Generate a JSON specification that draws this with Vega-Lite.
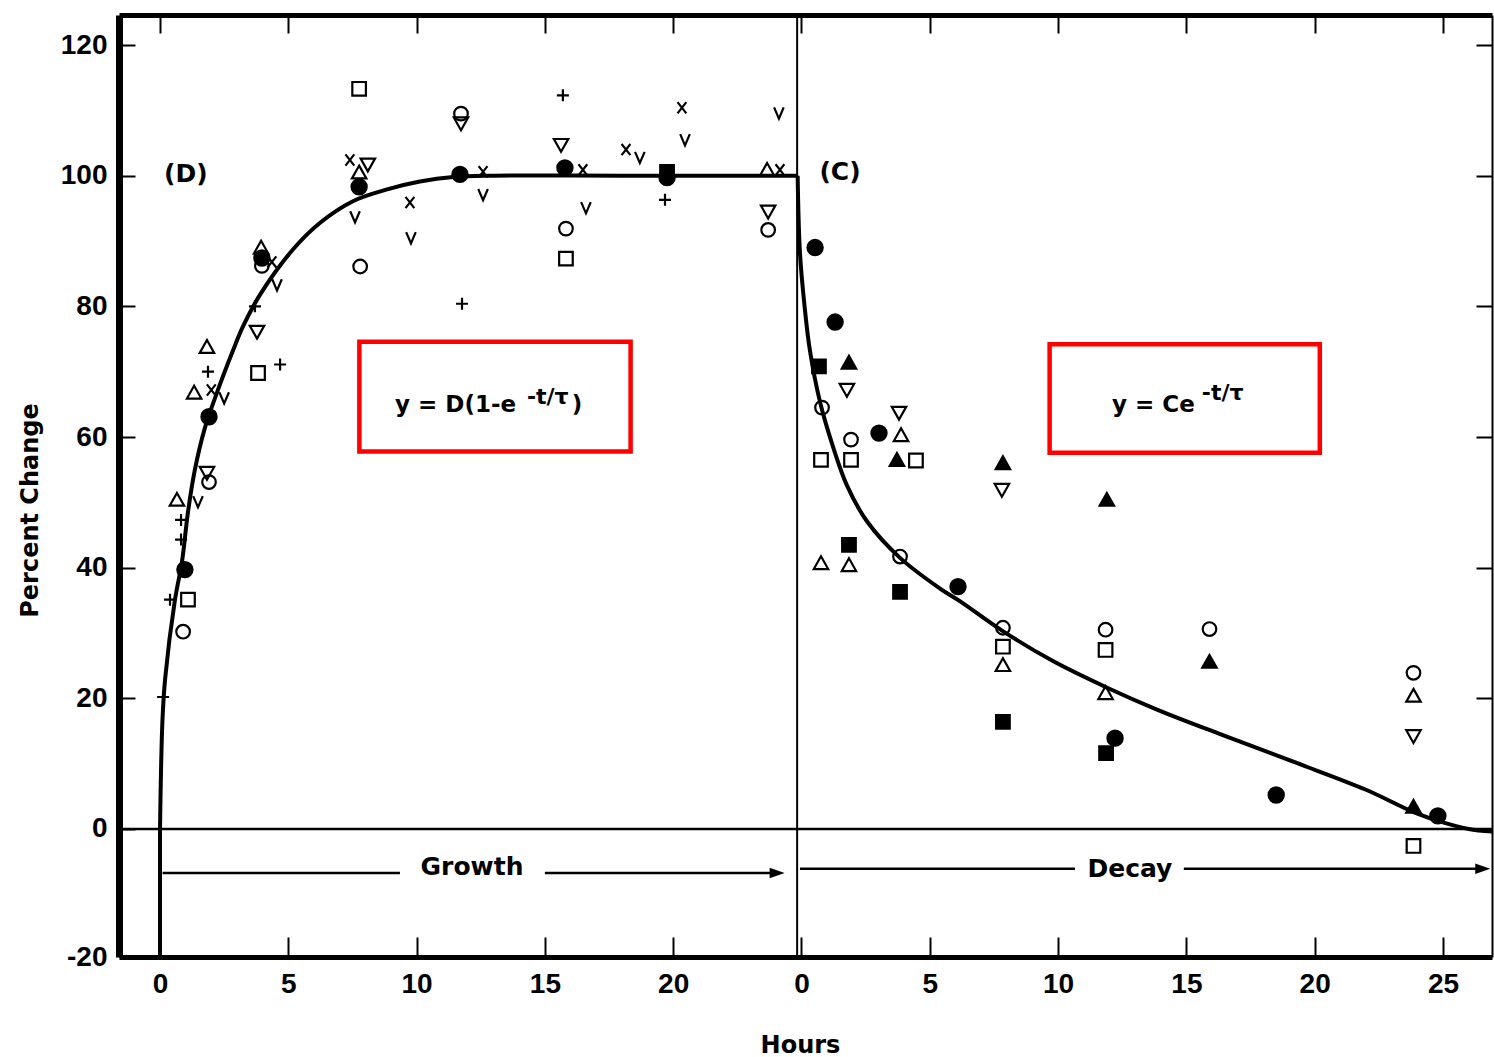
{
  "$schema": "https://vega.github.io/schema/vega-lite/v6.json",
  "width": 1373,
  "height": 942,
  "padding": {"left": 119, "top": 15, "right": 2, "bottom": 100},
  "autosize": {"type": "none"},
  "background": "white",
  "config": {"view": {"stroke": null}, "font": "DejaVu Sans"},
  "resolve": {"axis": {"x": "independent", "y": "independent"}},
  "datasets": {
    "points": [
      {"t": 0.12, "y": 20.2, "s": "plus"}, {"t": 0.39, "y": 35.1, "s": "plus"}, {"t": 0.82, "y": 47.3, "s": "plus"}, {"t": 0.82, "y": 44.3, "s": "plus"}, {"t": 1.87, "y": 70, "s": "plus"}, {"t": 4.68, "y": 71.1, "s": "plus"}, {"t": 3.7, "y": 80, "s": "plus"}, {"t": 11.77, "y": 80.4, "s": "plus"}, {"t": 15.7, "y": 112.3, "s": "plus"}, {"t": 19.68, "y": 96.3, "s": "plus"},
      {"t": 0.9, "y": 30.2, "s": "oc"}, {"t": 1.91, "y": 53.1, "s": "oc"}, {"t": 3.97, "y": 86.2, "s": "oc"}, {"t": 7.8, "y": 86.1, "s": "oc"}, {"t": 11.73, "y": 109.5, "s": "oc"}, {"t": 15.82, "y": 91.9, "s": "oc"}, {"t": 23.7, "y": 91.7, "s": "oc"},
      {"t": 1.09, "y": 35.1, "s": "os"}, {"t": 3.82, "y": 69.8, "s": "os"}, {"t": 7.76, "y": 113.3, "s": "os"}, {"t": 15.82, "y": 87.3, "s": "os"},
      {"t": 0.97, "y": 39.7, "s": "fc"}, {"t": 1.91, "y": 63.1, "s": "fc"}, {"t": 3.97, "y": 87.4, "s": "fc"}, {"t": 7.76, "y": 98.3, "s": "fc"}, {"t": 11.69, "y": 100.2, "s": "fc"}, {"t": 15.78, "y": 101.2, "s": "fc"}, {"t": 19.76, "y": 99.7, "s": "fc"},
      {"t": 19.76, "y": 100.6, "s": "fs"},
      {"t": 0.66, "y": 50.4, "s": "ot"}, {"t": 1.33, "y": 66.8, "s": "ot"}, {"t": 1.83, "y": 73.8, "s": "ot"}, {"t": 3.94, "y": 89, "s": "ot"}, {"t": 7.76, "y": 100.5, "s": "ot"}, {"t": 23.66, "y": 100.9, "s": "ot"},
      {"t": 1.83, "y": 54.5, "s": "od"}, {"t": 3.78, "y": 76.1, "s": "od"}, {"t": 8.1, "y": 101.7, "s": "od"}, {"t": 11.73, "y": 108, "s": "od"}, {"t": 15.63, "y": 104.7, "s": "od"}, {"t": 23.7, "y": 94.5, "s": "od"},
      {"t": 2.0, "y": 67.2, "s": "x"}, {"t": 4.36, "y": 86.8, "s": "x"}, {"t": 7.4, "y": 102.4, "s": "x"}, {"t": 9.74, "y": 95.9, "s": "x"}, {"t": 12.59, "y": 100.6, "s": "x"}, {"t": 16.48, "y": 100.9, "s": "x"}, {"t": 18.16, "y": 104, "s": "x"}, {"t": 20.34, "y": 110.4, "s": "x"}, {"t": 24.16, "y": 100.9, "s": "x"},
      {"t": 1.48, "y": 50.1, "s": "v"}, {"t": 2.5, "y": 66, "s": "v"}, {"t": 4.56, "y": 83.3, "s": "v"}, {"t": 7.6, "y": 93.7, "s": "v"}, {"t": 9.78, "y": 90.5, "s": "v"}, {"t": 12.59, "y": 97.1, "s": "v"}, {"t": 16.6, "y": 95.1, "s": "v"}, {"t": 18.7, "y": 102.8, "s": "v"}, {"t": 20.46, "y": 105.5, "s": "v"}, {"t": 24.12, "y": 109.6, "s": "v"},
      {"t": 25.53, "y": 89, "s": "fc"}, {"t": 26.31, "y": 77.6, "s": "fc"}, {"t": 28.02, "y": 60.6, "s": "fc"}, {"t": 31.1, "y": 37.1, "s": "fc"}, {"t": 37.22, "y": 13.9, "s": "fc"}, {"t": 43.5, "y": 5.2, "s": "fc"}, {"t": 49.8, "y": 2.0, "s": "fc"},
      {"t": 25.68, "y": 70.8, "s": "fs"}, {"t": 26.85, "y": 43.5, "s": "fs"}, {"t": 28.84, "y": 36.3, "s": "fs"}, {"t": 32.85, "y": 16.4, "s": "fs"}, {"t": 36.87, "y": 11.6, "s": "fs"},
      {"t": 26.85, "y": 71.4, "s": "ft"}, {"t": 28.72, "y": 56.5, "s": "ft"}, {"t": 32.85, "y": 56, "s": "ft"}, {"t": 36.9, "y": 50.4, "s": "ft"}, {"t": 40.9, "y": 25.6, "s": "ft"}, {"t": 48.85, "y": 3.4, "s": "ft"},
      {"t": 26.77, "y": 67.2, "s": "od"}, {"t": 28.8, "y": 63.7, "s": "od"}, {"t": 32.81, "y": 51.9, "s": "od"}, {"t": 48.85, "y": 14.2, "s": "od"},
      {"t": 25.8, "y": 64.5, "s": "oc"}, {"t": 26.93, "y": 59.6, "s": "oc"}, {"t": 28.84, "y": 41.7, "s": "oc"}, {"t": 32.85, "y": 30.8, "s": "oc"}, {"t": 36.85, "y": 30.5, "s": "oc"}, {"t": 40.9, "y": 30.6, "s": "oc"}, {"t": 48.85, "y": 23.9, "s": "oc"},
      {"t": 28.88, "y": 60.3, "s": "ot"}, {"t": 25.76, "y": 40.7, "s": "ot"}, {"t": 26.85, "y": 40.4, "s": "ot"}, {"t": 32.85, "y": 25.1, "s": "ot"}, {"t": 36.85, "y": 20.8, "s": "ot"}, {"t": 48.85, "y": 20.4, "s": "ot"},
      {"t": 25.76, "y": 56.5, "s": "os"}, {"t": 26.93, "y": 56.5, "s": "os"}, {"t": 29.46, "y": 56.4, "s": "os"}, {"t": 32.85, "y": 27.9, "s": "os"}, {"t": 36.85, "y": 27.4, "s": "os"}, {"t": 48.85, "y": -2.6, "s": "os"}
    ],
    "curves": [
      {"c": "g0", "t": 0, "y": -19.6}, {"c": "g0", "t": 0, "y": 0},
      {"c": "growth", "t": 0, "y": 0}, {"c": "growth", "t": 0.04, "y": 9}, {"c": "growth", "t": 0.1, "y": 17}, {"c": "growth", "t": 0.2, "y": 23},
      {"c": "growth", "t": 0.58, "y": 35}, {"c": "growth", "t": 0.86, "y": 41}, {"c": "growth", "t": 1.09, "y": 48.5}, {"c": "growth", "t": 1.36, "y": 55}, {"c": "growth", "t": 1.75, "y": 61.4},
      {"c": "growth", "t": 2.22, "y": 66.8}, {"c": "growth", "t": 2.84, "y": 73.2}, {"c": "growth", "t": 3.23, "y": 76.9}, {"c": "growth", "t": 3.9, "y": 81.8}, {"c": "growth", "t": 5.18, "y": 88.7},
      {"c": "growth", "t": 6.24, "y": 92.8}, {"c": "growth", "t": 7.52, "y": 96.1}, {"c": "growth", "t": 8.85, "y": 97.9}, {"c": "growth", "t": 10.13, "y": 99.1}, {"c": "growth", "t": 11.42, "y": 99.8},
      {"c": "growth", "t": 13, "y": 100}, {"c": "growth", "t": 18, "y": 100}, {"c": "growth", "t": 24.85, "y": 100},
      {"c": "decay", "t": 24.85, "y": 100}, {"c": "decay", "t": 24.94, "y": 88.2}, {"c": "decay", "t": 25.12, "y": 80}, {"c": "decay", "t": 25.33, "y": 73.2}, {"c": "decay", "t": 25.72, "y": 65.4}, {"c": "decay", "t": 26.23, "y": 58.5},
      {"c": "decay", "t": 26.77, "y": 52.6}, {"c": "decay", "t": 27.55, "y": 47.1}, {"c": "decay", "t": 28.84, "y": 41.5}, {"c": "decay", "t": 30.4, "y": 36.8}, {"c": "decay", "t": 31.2, "y": 34.8},
      {"c": "decay", "t": 32.8, "y": 30.4}, {"c": "decay", "t": 34.8, "y": 25.7}, {"c": "decay", "t": 36.87, "y": 21.7}, {"c": "decay", "t": 38.9, "y": 18.2}, {"c": "decay", "t": 41.6, "y": 14.1}, {"c": "decay", "t": 44.3, "y": 10.1},
      {"c": "decay", "t": 47.0, "y": 6.0}, {"c": "decay", "t": 48.9, "y": 2.5}, {"c": "decay", "t": 50.0, "y": 1.0}, {"c": "decay", "t": 51.0, "y": 0}, {"c": "decay", "t": 51.91, "y": -0.4}
    ],
    "arrows": [
      {"seg": "g1", "t": 0.1, "y": -6.74}, {"seg": "g1", "t": 9.35, "y": -6.74},
      {"seg": "g2", "t": 15.0, "y": -6.74}, {"seg": "g2", "t": 24.0, "y": -6.74},
      {"seg": "d1", "t": 24.94, "y": -6.1}, {"seg": "d1", "t": 35.66, "y": -6.1},
      {"seg": "d2", "t": 39.9, "y": -6.1}, {"seg": "d2", "t": 51.4, "y": -6.1}
    ],
    "heads": [{"t": 24.05, "y": -6.74}, {"t": 51.55, "y": -6.1}],
    "boxes": [
      {"x1": 7.77, "x2": 18.34, "y1": 74.6, "y2": 57.8},
      {"x1": 34.67, "x2": 45.2, "y1": 74.2, "y2": 57.6}
    ],
    "labels": [
      {"t": 1.01, "y": 100.2, "txt": "(D)"}, {"t": 26.5, "y": 100.6, "txt": "(C)"},
      {"t": 12.16, "y": -5.8, "txt": "Growth"}, {"t": 37.8, "y": -6.1, "txt": "Decay"}
    ],
    "eq": [
      {"t": 9.16, "y": 63.9, "txt": "y = D(1-e"}, {"t": 16.05, "y": 63.9, "txt": ")"}, {"t": 37.1, "y": 63.9, "txt": "y = Ce"}
    ],
    "sup": [
      {"t": 14.3, "y": 65.1, "txt": "-t/τ"}, {"t": 40.6, "y": 65.7, "txt": "-t/τ"}
    ],
    "zero": [{"y": 0}],
    "divider": [{"t": 24.83}]
  },
  "layer": [
    {
      "data": {"name": "zero"},
      "mark": {"type": "rule", "color": "black", "strokeWidth": 2.5},
      "encoding": {"y": {"field": "y", "type": "quantitative", "axis": null}}
    },
    {
      "data": {"name": "divider"},
      "mark": {"type": "rule", "color": "black", "strokeWidth": 2},
      "encoding": {"x": {"field": "t", "type": "quantitative", "axis": null}}
    },
    {
      "data": {"name": "boxes"},
      "mark": {"type": "rect", "filled": false, "fill": null, "stroke": "#ff0000", "strokeWidth": 4.5},
      "encoding": {
        "x": {"field": "x1", "type": "quantitative", "axis": null},
        "x2": {"field": "x2"},
        "y": {"field": "y1", "type": "quantitative", "axis": null},
        "y2": {"field": "y2"}
      }
    },
    {
      "data": {"name": "curves"},
      "mark": {"type": "line", "color": "black", "strokeWidth": 4, "strokeJoin": "round", "interpolate": "catmull-rom"},
      "encoding": {
        "x": {"field": "t", "type": "quantitative",
          "axis": {"orient": "top", "values": [0, 5, 10, 15, 20, 25, 30, 35, 40, 45, 50], "labels": false, "title": null, "grid": false, "domainColor": "black", "domainWidth": 5, "tickColor": "black", "tickWidth": 2, "tickSize": -18}},
        "y": {"field": "y", "type": "quantitative",
          "axis": {"orient": "right", "values": [0, 20, 40, 60, 80, 100, 120], "labels": false, "title": null, "grid": false, "domainColor": "black", "domainWidth": 2, "tickColor": "black", "tickWidth": 2, "tickSize": -16}},
        "detail": {"field": "c"},
        "order": {"field": "t", "type": "quantitative"}
      }
    },
    {
      "data": {"name": "arrows"},
      "mark": {"type": "line", "color": "black", "strokeWidth": 2.5},
      "encoding": {
        "x": {"field": "t", "type": "quantitative", "axis": null},
        "y": {"field": "y", "type": "quantitative", "axis": null},
        "detail": {"field": "seg"}
      }
    },
    {
      "data": {"name": "heads"},
      "mark": {"type": "point", "shape": "M1,0L-1,-0.7L-1,0.7Z", "filled": true, "color": "black", "size": 225, "opacity": 1},
      "encoding": {
        "x": {"field": "t", "type": "quantitative", "axis": null},
        "y": {"field": "y", "type": "quantitative", "axis": null}
      }
    },
    {
      "data": {"name": "labels"},
      "mark": {"type": "text", "font": "DejaVu Sans", "fontWeight": "bold", "fontSize": 25, "color": "black", "align": "center", "baseline": "middle"},
      "encoding": {
        "x": {"field": "t", "type": "quantitative", "axis": null},
        "y": {"field": "y", "type": "quantitative", "axis": null},
        "text": {"field": "txt"}
      }
    },
    {
      "data": {"name": "eq"},
      "mark": {"type": "text", "font": "DejaVu Sans", "fontWeight": "bold", "fontSize": 23, "color": "black", "align": "left", "baseline": "alphabetic"},
      "encoding": {
        "x": {"field": "t", "type": "quantitative", "axis": null},
        "y": {"field": "y", "type": "quantitative", "axis": null},
        "text": {"field": "txt"}
      }
    },
    {
      "data": {"name": "sup"},
      "mark": {"type": "text", "font": "DejaVu Sans", "fontWeight": "bold", "fontSize": 22, "color": "black", "align": "left", "baseline": "alphabetic"},
      "encoding": {
        "x": {"field": "t", "type": "quantitative", "axis": null},
        "y": {"field": "y", "type": "quantitative", "axis": null},
        "text": {"field": "txt"}
      }
    },
    {
      "data": {"name": "points"},
      "mark": {"type": "point", "size": 256, "strokeWidth": 2.2, "opacity": 1, "strokeOpacity": 1, "fillOpacity": 1},
      "encoding": {
        "x": {"field": "t", "type": "quantitative",
          "scale": {"domain": [-1.598, 51.91], "nice": false, "zero": false},
          "axis": {"orient": "bottom", "values": [0, 5, 10, 15, 20, 25, 30, 35, 40, 45, 50],
            "labelExpr": "'' + (datum.value < 24 ? datum.value : datum.value - 25)",
            "grid": false, "domainColor": "black", "domainWidth": 5, "tickColor": "black", "tickWidth": 2, "tickSize": -20,
            "labelFont": "Liberation Sans", "labelFontSize": 28, "labelFontWeight": "bold", "labelColor": "black", "labelPadding": 33,
            "title": "Hours", "titleFont": "DejaVu Sans", "titleFontSize": 24, "titleFontWeight": "bold", "titleColor": "black",
            "titleX": 681, "titleY": 88, "titleBaseline": "middle"}},
        "y": {"field": "y", "type": "quantitative",
          "scale": {"domain": [-19.6, 124.6], "nice": false, "zero": false},
          "axis": {"orient": "left", "values": [-19.6, 0, 20, 40, 60, 80, 100, 120],
            "labelExpr": "datum.value < -19 ? '-20' : datum.label",
            "grid": false, "domainColor": "black", "domainWidth": 7, "tickColor": "black", "tickWidth": 2, "tickSize": -16,
            "labelFont": "Liberation Sans", "labelFontSize": 28, "labelFontWeight": "bold", "labelColor": "black", "labelPadding": 28,
            "title": "Percent Change", "titleFont": "DejaVu Sans", "titleFontSize": 24, "titleFontWeight": "bold", "titleColor": "black",
            "titleX": -89, "titleY": 495, "titleAngle": -90, "titleBaseline": "middle"}},
        "shape": {"field": "s", "type": "nominal", "legend": null,
          "scale": {"domain": ["fc", "oc", "fs", "os", "ft", "ot", "od", "plus", "x", "v"],
            "range": [
              "M0.95,0A0.95,0.95,0,1,1,-0.95,0A0.95,0.95,0,1,1,0.95,0Z",
              "M0.85,0A0.85,0.85,0,1,1,-0.85,0A0.85,0.85,0,1,1,0.85,0Z",
              "M-0.85,-0.85H0.85V0.85H-0.85Z",
              "M-0.85,-0.85H0.85V0.85H-0.85Z",
              "M0,-0.85L0.9,0.75L-0.9,0.75Z",
              "M0,-0.85L0.9,0.75L-0.9,0.75Z",
              "M0,0.85L0.9,-0.75L-0.9,-0.75Z",
              "M0,-0.75V0.75M-0.75,0H0.75",
              "M-0.55,-0.7L0.55,0.7M0.55,-0.7L-0.55,0.7",
              "M-0.6,-0.7L0,0.7L0.6,-0.7"
            ]}},
        "fill": {"condition": {"test": "datum.s === 'fc' || datum.s === 'fs' || datum.s === 'ft'", "value": "black"}, "value": "transparent"},
        "stroke": {"value": "black"}
      }
    }
  ]
}
